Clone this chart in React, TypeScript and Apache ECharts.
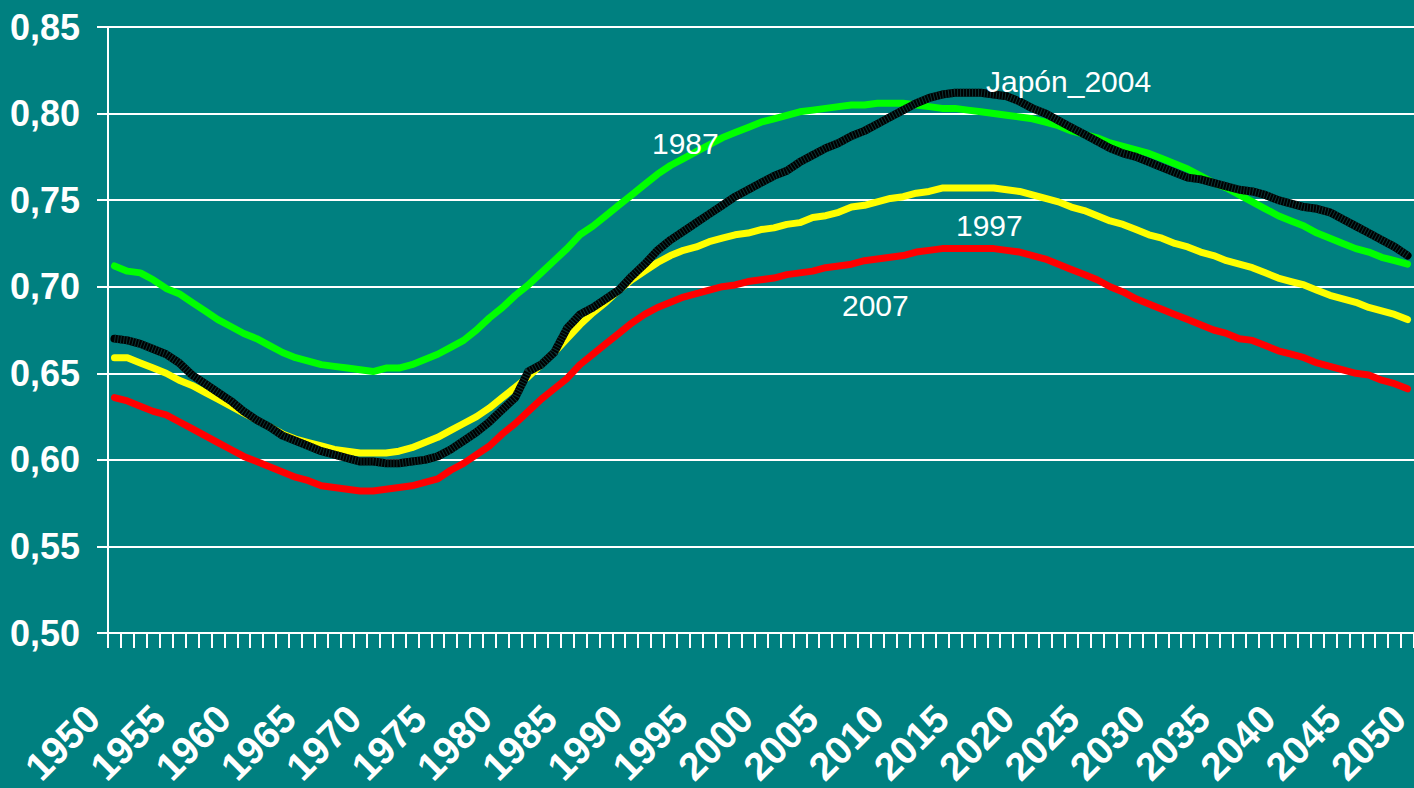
import React, { useEffect, useRef } from "react";
import * as echarts from "echarts";

// Categories: one per year
const years: string[] = Array.from({ length: 101 }, (_, i) => String(1950 + i));

// Y axis
const yMin = 0.5;
const yMax = 0.85;
const yStep = 0.05;

// X label axis (every 5 years)
const labelMin = 1950;
const labelMax = 2050;
const labelStep = 5;

// Series values (1950..2050)
const s1987 = [
  0.712, 0.709, 0.708, 0.704, 0.699, 0.696, 0.691, 0.686, 0.681, 0.677,
  0.673, 0.670, 0.666, 0.662, 0.659, 0.657, 0.655, 0.654, 0.653, 0.652,
  0.651, 0.653, 0.653, 0.655, 0.658, 0.661, 0.665, 0.669, 0.675, 0.682,
  0.688, 0.695, 0.701, 0.708, 0.715, 0.722, 0.730, 0.735, 0.741, 0.747,
  0.753, 0.759, 0.765, 0.770, 0.774, 0.778, 0.782, 0.786, 0.789, 0.792,
  0.795, 0.797, 0.799, 0.801, 0.802, 0.803, 0.804, 0.805, 0.805, 0.806,
  0.806, 0.806, 0.805, 0.804, 0.803, 0.803, 0.802, 0.801, 0.800, 0.799,
  0.798, 0.797, 0.795, 0.793, 0.790, 0.788, 0.786, 0.783, 0.781, 0.779,
  0.777, 0.774, 0.771, 0.768, 0.764, 0.760, 0.757, 0.753, 0.749, 0.745,
  0.741, 0.738, 0.735, 0.731, 0.728, 0.725, 0.722, 0.720, 0.717, 0.715,
  0.713,
];

const s1997 = [
  0.659, 0.659, 0.656, 0.653, 0.650, 0.646, 0.643, 0.639, 0.635, 0.631,
  0.627, 0.623, 0.619, 0.615, 0.612, 0.610, 0.608, 0.606, 0.605, 0.604,
  0.604, 0.604, 0.605, 0.607, 0.610, 0.613, 0.617, 0.621, 0.625, 0.630,
  0.636, 0.642, 0.648, 0.655, 0.662, 0.670, 0.678, 0.685, 0.691, 0.698,
  0.704, 0.709, 0.714, 0.718, 0.721, 0.723, 0.726, 0.728, 0.730, 0.731,
  0.733, 0.734, 0.736, 0.737, 0.740, 0.741, 0.743, 0.746, 0.747, 0.749,
  0.751, 0.752, 0.754, 0.755, 0.757, 0.757, 0.757, 0.757, 0.757, 0.756,
  0.755, 0.753, 0.751, 0.749, 0.746, 0.744, 0.741, 0.738, 0.736, 0.733,
  0.730, 0.728, 0.725, 0.723, 0.720, 0.718, 0.715, 0.713, 0.711, 0.708,
  0.705, 0.703, 0.701, 0.698, 0.695, 0.693, 0.691, 0.688, 0.686, 0.684,
  0.681,
];

const s2007 = [
  0.636, 0.634, 0.631, 0.628, 0.626, 0.622, 0.618, 0.614, 0.610, 0.606,
  0.602, 0.599, 0.596, 0.593, 0.590, 0.588, 0.585, 0.584, 0.583, 0.582,
  0.582, 0.583, 0.584, 0.585, 0.587, 0.589, 0.594, 0.598, 0.603, 0.608,
  0.615, 0.621, 0.628, 0.635, 0.641, 0.647, 0.655, 0.661, 0.667, 0.673,
  0.679, 0.684, 0.688, 0.691, 0.694, 0.696, 0.698, 0.700, 0.701, 0.703,
  0.704, 0.705, 0.707, 0.708, 0.709, 0.711, 0.712, 0.713, 0.715, 0.716,
  0.717, 0.718, 0.720, 0.721, 0.722, 0.722, 0.722, 0.722, 0.722, 0.721,
  0.720, 0.718, 0.716, 0.713, 0.710, 0.707, 0.704, 0.700, 0.697, 0.693,
  0.690, 0.687, 0.684, 0.681, 0.678, 0.675, 0.673, 0.670, 0.669, 0.666,
  0.663, 0.661, 0.659, 0.656, 0.654, 0.652, 0.650, 0.649, 0.646, 0.644,
  0.641,
];

const sJapon2004 = [
  0.670, 0.669, 0.667, 0.664, 0.661, 0.656, 0.649, 0.644, 0.639, 0.634,
  0.628, 0.623, 0.619, 0.614, 0.611, 0.608, 0.605, 0.603, 0.601, 0.599,
  0.599, 0.598, 0.598, 0.599, 0.600, 0.602, 0.606, 0.611, 0.616, 0.622,
  0.629, 0.636, 0.651, 0.655, 0.662, 0.676, 0.684, 0.688, 0.693, 0.698,
  0.706, 0.713, 0.721, 0.727, 0.732, 0.737, 0.742, 0.747, 0.752, 0.756,
  0.760, 0.764, 0.767, 0.772, 0.776, 0.780, 0.783, 0.787, 0.790, 0.794,
  0.798, 0.802, 0.806, 0.809, 0.811, 0.812, 0.812, 0.812, 0.811, 0.810,
  0.807, 0.803, 0.800, 0.796, 0.792, 0.788, 0.784, 0.780, 0.777, 0.775,
  0.772, 0.769, 0.766, 0.763, 0.762, 0.760, 0.758, 0.756, 0.755, 0.753,
  0.750, 0.748, 0.746, 0.745, 0.743, 0.739, 0.735, 0.731, 0.727, 0.723,
  0.718,
];

const seriesNames = ["2007", "1997", "1987", "Japón_2004"];

const BG = "#008080";
const WHITE = "#ffffff";
const SANS = "'Liberation Sans', Arial, sans-serif";

export default function App() {
  const ref = useRef<HTMLDivElement>(null);

  useEffect(() => {
    if (!ref.current) return;
    const chart = echarts.init(ref.current, undefined, { renderer: "svg" });

    const lineSeries = (name: string, data: number[], color: string, width: number, z: number) => ({
      name,
      type: "line",
      xAxisIndex: 0,
      yAxisIndex: 0,
      data,
      symbol: "none",
      smooth: false,
      z,
      lineStyle: { color, width, cap: "round", join: "round" },
    });

    chart.setOption({
      animation: false,
      backgroundColor: BG,
      grid: {
        left: 108,
        right: 0,
        top: 27,
        bottom: 155,
        containLabel: false,
        outerBoundsMode: "none",
      },
      xAxis: [
        {
          type: "category",
          data: years,
          position: "bottom",
          boundaryGap: true,
          axisLine: { show: true, lineStyle: { color: WHITE, width: 2 } },
          axisTick: { show: true, interval: 0, length: 15, lineStyle: { color: WHITE, width: 2 } },
          axisLabel: { show: false },
          splitLine: { show: false },
        },
        {
          type: "value",
          position: "bottom",
          min: labelMin,
          max: labelMax,
          interval: labelStep,
          axisLine: { show: false },
          axisTick: { show: false },
          splitLine: { show: false },
          axisLabel: {
            show: true,
            rotate: 45,
            margin: 64,
            padding: [0, 21, 0, 0],
            color: WHITE,
            fontWeight: "bold",
            fontSize: 39,
            fontFamily: SANS,
            showMinLabel: true,
            showMaxLabel: true,
            hideOverlap: false,
            formatter: (v: number) => String(Math.round(v)),
          },
        },
      ],
      yAxis: {
        type: "value",
        min: yMin,
        max: yMax,
        interval: yStep,
        axisLine: { show: true, lineStyle: { color: WHITE, width: 2 } },
        axisTick: { show: true, inside: false, length: 11, lineStyle: { color: WHITE, width: 2 } },
        splitLine: { show: true, lineStyle: { color: WHITE, width: 2 } },
        axisLabel: {
          color: WHITE,
          fontWeight: "bold",
          fontSize: 36,
          fontFamily: SANS,
          margin: 28,
          formatter: (v: number) => v.toFixed(2).replace(".", ","),
        },
      },
      series: [
        lineSeries(seriesNames[0], s2007, "#ff0000", 7, 2),
        lineSeries(seriesNames[1], s1997, "#ffff00", 7, 3),
        lineSeries(seriesNames[2], s1987, "#00ff00", 7, 4),
        lineSeries(seriesNames[3], sJapon2004, "#000000", 8, 5),
        {
          name: "Japón_2004 pattern",
          type: "line",
          data: sJapon2004,
          symbol: "none",
          z: 6,
          silent: true,
          lineStyle: { color: "#0b3434", width: 8, type: [1, 2], cap: "butt", join: "round" },
        },
      ],
      graphic: [
        { type: "text", x: 652, y: 143, style: { text: "1987", fill: WHITE, font: `30px ${SANS}`, align: "left", verticalAlign: "middle" }, z: 100 },
        { type: "text", x: 956, y: 225, style: { text: "1997", fill: WHITE, font: `30px ${SANS}`, align: "left", verticalAlign: "middle" }, z: 100 },
        { type: "text", x: 842, y: 305, style: { text: "2007", fill: WHITE, font: `30px ${SANS}`, align: "left", verticalAlign: "middle" }, z: 100 },
        { type: "text", x: 986, y: 81, style: { text: "Japón_2004", fill: WHITE, font: `30px ${SANS}`, align: "left", verticalAlign: "middle" }, z: 100 },
      ],
    });

    return () => chart.dispose();
  }, []);

  return (
    <div
      ref={ref}
      style={{ position: "fixed", left: 0, top: 0, width: 1414, height: 788 }}
    />
  );
}
